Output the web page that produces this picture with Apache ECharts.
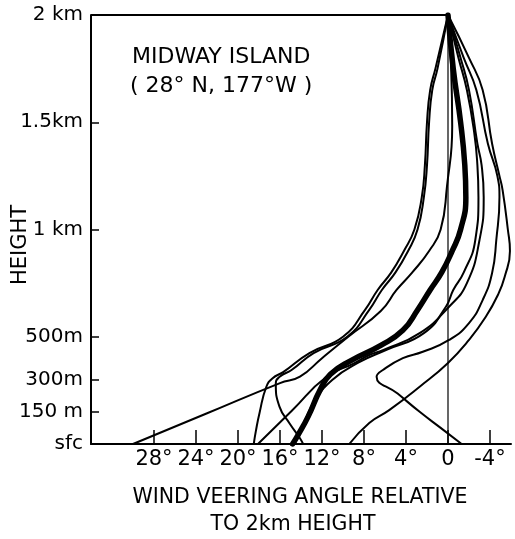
<!DOCTYPE html>
<html><head><meta charset="utf-8">
<script src="https://cdn.jsdelivr.net/npm/echarts@6/dist/echarts.min.js"></script>
<style>html,body{margin:0;padding:0;background:#fff}#c{width:515px;height:539px}</style>
</head><body><div id="c"></div>
<script>
// Tick values / labels
const xTicks = [28, 24, 20, 16, 12, 8, 4, 0, -4];
const yTickValues = [0, 150, 300, 500, 1000, 1500, 2000];
const yTickLabels = ['sfc', '150 m', '300m', '500m', '1 km', '1.5km', '2 km'];
const yMinorTicks = [150, 300, 500, 1000, 1500];

// Profiles: [veering angle (deg), height (m)]
const meanProfile = [[14.8,0],[14.3,40],[13.3,130],[12.2,250],[11.2,325],[9.2,390],[6.4,460],[4.3,530],[2.9,625],[1.7,718],[0.6,800],[-0.4,900],[-1.2,1000],[-1.7,1150],[-1.6,1300],[-1.2,1500],[-0.5,1750],[0,2000]];
const profileL1 = [[18.5,0],[18.3,60],[17.95,145],[17.3,267],[16.7,307],[15.7,335],[13.2,424],[10.0,500],[7.9,625],[6.7,718],[5.4,800],[4.2,900],[3.2,1000],[2.5,1150],[2.2,1300],[2.0,1500],[1.7,1650],[1.2,1750],[0,2000]];
const profileL2 = [[13.8,0],[14.1,27],[15.1,97],[16.05,174],[16.4,283],[16.0,315],[14.9,345],[12.8,424],[9.6,500],[7.5,625],[6.3,718],[5.0,800],[3.8,900],[2.9,1000],[2.3,1150],[2.0,1300],[1.8,1500],[1.5,1650],[1.0,1750],[0,2000]];
const profileSC = [[30,0],[23,142],[16.0,284],[14.1,314],[12.0,400],[9.5,500],[6.4,620],[4.9,718],[3.4,800],[1.8,900],[0.7,1000],[0.1,1200],[-0.4,1480],[-0.3,1750],[0,2000]];
const profileTD = [[18.1,0],[14.85,156],[11.6,312],[9.0,375],[7.5,415],[6.2,438],[2.7,517],[-0.1,640],[-1.8,750],[-3.0,951],[-3.4,1150],[-3.2,1300],[-2.8,1400],[-2.0,1650],[-1.2,1800],[0,2000]];
const profileD2 = [[14.6,0],[13.7,100],[12.7,200],[11.0,300],[8.5,380],[5.8,440],[2.3,517],[0.2,640],[-0.5,718],[-1.5,800],[-2.6,951],[-2.9,1150],[-2.8,1300],[-2.5,1450],[-1.8,1650],[-1.0,1800],[0,2000]];
const profileE = [[-1.3,0],[0.7,75],[2.7,150],[4.8,235],[6.8,314],[6.2,345],[4.3,400],[2.4,430],[-0.1,485],[-2.0,564],[-3.3,671],[-4.2,797],[-4.6,951],[-4.9,1150],[-4.7,1250],[-3.8,1400],[-2.7,1650],[-1.5,1800],[0,2000]];
const profileF = [[9.4,0],[7.5,98],[5.6,158],[2.7,267],[0,378],[-2.0,485],[-3.6,593],[-4.8,700],[-5.4,780],[-5.9,900],[-5.7,1000],[-5.2,1184],[-4.9,1250],[-4.2,1400],[-3.3,1650],[-2.0,1800],[0,2000]];
const topBorder = [[34,2000],[0,2000]];
const zeroLine = [[0,0],[0,2000]];

const FONT = 'DejaVu Sans';
const chart = echarts.init(document.getElementById('c'), null, {renderer: 'canvas'});

function thin(data) {
  return {type: 'line', data: data, smooth: 0.5, symbol: 'none', silent: true,
    lineStyle: {color: '#000', width: 2, cap: 'round', join: 'round'}, z: 3};
}

const option = {
  backgroundColor: '#fff',
  animation: false,
  grid: {left: 91, right: 4, top: 15, bottom: 95, containLabel: false, outerBoundsMode: 'none'},
  xAxis: {
    type: 'value', inverse: true, min: -6, max: 34,
    splitLine: {show: false},
    axisLine: {show: true, onZero: false, lineStyle: {color: '#000', width: 2}},
    axisTick: {show: true, inside: true, length: 14, customValues: xTicks, lineStyle: {color: '#000', width: 1.5}},
    axisLabel: {show: true, customValues: xTicks, margin: 5, color: '#000', fontSize: 21, fontFamily: FONT,
      formatter: v => v === 0 ? '0' : v + '°'}
  },
  yAxis: {
    type: 'value', min: 0, max: 2000,
    splitLine: {show: false},
    axisLine: {show: true, onZero: false, lineStyle: {color: '#000', width: 2}},
    axisTick: {show: true, inside: true, length: 8, customValues: yMinorTicks, lineStyle: {color: '#000', width: 1.5}},
    axisLabel: {show: true, customValues: yTickValues, margin: 8, color: '#000', fontSize: 20, fontFamily: FONT,
      formatter: v => yTickLabels[yTickValues.indexOf(v)]}
  },
  series: [
    {type: 'line', data: topBorder, symbol: 'none', silent: true, lineStyle: {color: '#000', width: 2}, z: 2},
    {type: 'line', data: zeroLine, symbol: 'none', silent: true, lineStyle: {color: '#000', width: 1.2}, z: 2},
    thin(profileL1), thin(profileL2), thin(profileSC), thin(profileTD),
    thin(profileD2), thin(profileE), thin(profileF),
    {type: 'line', data: meanProfile, smooth: 0.5, symbol: 'none', silent: true,
      lineStyle: {color: '#000', width: 5.5, cap: 'round', join: 'round'}, z: 4}
  ],
  graphic: [
    {type: 'text', left: 132, top: 46, style: {text: 'MIDWAY ISLAND', fill: '#000', font: '22px "DejaVu Sans"'}},
    {type: 'text', left: 130, top: 75, style: {text: '( 28° N, 177°W )', fill: '#000', font: '22px "DejaVu Sans"'}},
    {type: 'text', x: 21, y: 245, rotation: Math.PI / 2,
      style: {text: 'HEIGHT', fill: '#000', font: '21px "DejaVu Sans"', align: 'center', verticalAlign: 'middle'}},
    {type: 'text', x: 300, y: 498, style: {text: 'WIND VEERING ANGLE RELATIVE', fill: '#000', font: '20.5px "DejaVu Sans"', align: 'center', verticalAlign: 'middle'}},
    {type: 'text', x: 293, y: 525, style: {text: 'TO 2km HEIGHT', fill: '#000', font: '20.5px "DejaVu Sans"', align: 'center', verticalAlign: 'middle'}}
  ]
};
chart.setOption(option);
</script>
</body></html>
